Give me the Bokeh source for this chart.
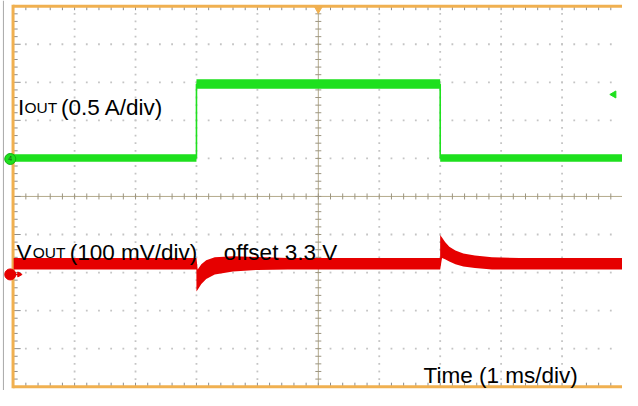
import numpy as np
from bokeh.plotting import figure
from bokeh.models import Range1d, Label
from bokeh.embed import file_html
from bokeh.resources import INLINE

# ---- data (scope screen: x in ms at 1 ms/div, y in divisions) ----
iout_t = [0.0, 3.0, 3.0, 7.0, 7.0, 10.0]
iout_hi = [1.11, 1.11, 3.08, 3.08, 1.11, 1.11]
iout_lo = [0.91, 0.91, 2.83, 2.83, 0.91, 0.91]
iout_mid = [1.01, 1.01, 2.95, 2.95, 1.01, 1.01]

vout_t = [0.0, 2.999, 3.0, 3.02, 3.08, 3.16, 3.3, 3.6, 4.0, 4.5,
          6.999, 7.0, 7.03, 7.08, 7.15, 7.25, 7.38, 7.57, 7.85, 8.3, 10.0]
vout_hi = [-1.62, -1.62, -1.62, -1.92, -1.78, -1.68, -1.60, -1.57, -1.59, -1.62,
           -1.62, -1.01, -1.08, -1.20, -1.32, -1.42, -1.50, -1.55, -1.60, -1.62, -1.62]
vout_lo = [-1.92, -1.92, -2.50, -2.45, -2.30, -2.17, -2.05, -1.97, -1.93, -1.92,
           -1.92, -1.92, -1.62, -1.65, -1.71, -1.78, -1.84, -1.88, -1.92, -1.92, -1.92]

ch_marker_y = [0.985, -2.05]          # channel offset markers (div)
trig_level_y = 2.68                   # trigger level marker (div)

GREEN = "#1ee01e"
RED = "#e60000"
ORANGE = "#f0b050"
FONT = "Liberation Sans"

W, H = 622, 390
XR = (-0.216, 9.992)
YR = (-5.10, 5.15)

p = figure(width=W, height=H, x_range=Range1d(*XR), y_range=Range1d(*YR),
           output_backend="svg", toolbar_location=None, min_border=0,
           x_axis_location=None, y_axis_location=None)
p.grid.visible = False
p.outline_line_color = None
p.background_fill_color = "white"
p.border_fill_color = "white"

PX_X = (XR[1] - XR[0]) / W   # ms per pixel
PX_Y = (YR[1] - YR[0]) / H   # div per pixel

# ---- outer grey edge ----
p.line([-0.168, -0.168], [YR[0], YR[1]], line_color="#a8a8a8", line_width=1)

# ---- dotted graticule ----
minor_y = np.round(np.arange(-5, 5.001, 0.2), 3)
minor_x = np.round(np.arange(0, 10.001, 0.2), 3)
dx, dy = [], []
for t in range(1, 10):
    if t == 5:
        continue
    for yy in minor_y[1:-1]:
        dx.append(t); dy.append(yy)
for yy in range(-4, 5):
    if yy == 0:
        continue
    for t in minor_x[1:]:
        dx.append(t); dy.append(yy)
p.scatter(dx, dy, marker="square", size=1.8, color="#c4c4c4", line_color=None)

# ---- centre crosshair with ticks ----
p.segment(x0=[5, 0], y0=[-5, 0], x1=[5, 10], y1=[5, 0], line_color="#b4aa8c", line_width=1)
cy = minor_y[1:-1]
p.segment(x0=[5 - 3 * PX_X] * len(cy), y0=cy, x1=[5 + 3 * PX_X] * len(cy), y1=cy,
          line_color="#9c9580", line_width=1)
cx = minor_x[1:]
p.segment(x0=cx, y0=[-3 * PX_Y] * len(cx), x1=cx, y1=[3 * PX_Y] * len(cx),
          line_color="#9c9580", line_width=1)

# ---- border ticks ----
lens = [7 if abs(v - round(v)) < 1e-6 else 4 for v in cy]
p.segment(x0=[0] * len(cy), y0=cy, x1=[l * PX_X for l in lens], y1=cy,
          line_color="#8c8c8c", line_width=1)
p.segment(x0=cx, y0=[5] * len(cx), x1=cx, y1=[5 - 4 * PX_Y] * len(cx),
          line_color="#8c8c8c", line_width=1)
p.segment(x0=cx, y0=[-5] * len(cx), x1=cx, y1=[-5 + 4 * PX_Y] * len(cx),
          line_color="#8c8c8c", line_width=1)

# ---- orange frame ----
p.line([-0.01, -0.01], [-5.04, 5.04], line_color=ORANGE, line_width=3)
p.line([-0.01, 10.5], [5, 5], line_color=ORANGE, line_width=3)
p.line([-0.01, 10.5], [-5, -5], line_color=ORANGE, line_width=3)

# ---- traces ----
p.varea(x=iout_t, y1=iout_lo, y2=iout_hi, fill_color=GREEN)
p.line(iout_t, iout_mid, line_color=GREEN, line_width=1.6)
p.varea(x=vout_t, y1=vout_lo, y2=vout_hi, fill_color=RED)

# ---- markers ----
mx = -0.056
p.scatter([mx], [ch_marker_y[0]], marker="circle", size=11, fill_color=GREEN,
          line_color="#10b010", line_width=1)
p.text([mx], [ch_marker_y[0]], text=["4"], text_font_size="7px", text_color="#205020",
       text_align="center", text_baseline="middle")
p.scatter([mx], [ch_marker_y[1]], marker="circle", size=11, fill_color=RED,
          line_color=RED)
p.segment(x0=[mx], y0=[ch_marker_y[1]], x1=[mx + 9 * PX_X], y1=[ch_marker_y[1]],
          line_color=RED, line_width=1.5)
p.scatter([mx + 9 * PX_X], [ch_marker_y[1]], marker="triangle", size=5,
          angle=-np.pi / 2, fill_color=RED, line_color=RED)
p.scatter([9.85], [trig_level_y], marker="triangle", size=7, angle=np.pi / 2,
          fill_color=GREEN, line_color=GREEN)
p.scatter([5.0], [4.93], marker="inverted_triangle", size=8, fill_color=ORANGE,
          line_color=ORANGE)

# ---- labels (positions given in reference-image pixels) ----
def tx(px):
    return (px - 13.5) / 62.5

def ty(py):
    return (204 - py) / 39.6

def lab(px, py, txt, size):
    p.add_layout(Label(x=tx(px), y=ty(py), text=txt, text_font=FONT,
                       text_font_size=f"{size}px", text_color="black",
                       text_baseline="alphabetic", text_align="left"))

lab(18, 111, "I", 22.5)
lab(24.5, 111, "OUT", 15.5)
lab(62, 111, "(0.5 A/div)", 22.5)
lab(16.5, 262, "V", 22.5)
lab(33, 262, "OUT", 15.5)
lab(71, 262, "(100 mV/div)", 22.5)
lab(229, 262, "offset 3.3 V", 22.5)
lab(434, 390, "Time (1 ms/div)", 22.5)

open("out.html", "w").write(file_html(p, INLINE))
